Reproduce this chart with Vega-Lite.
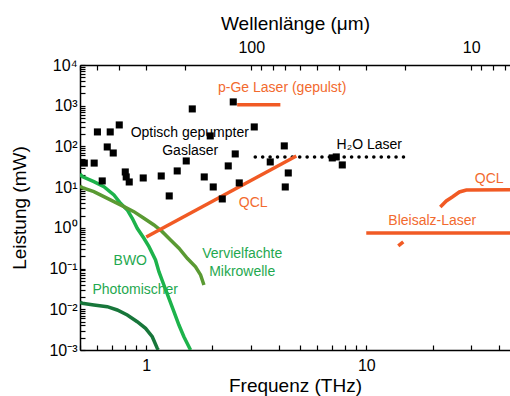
{
  "$schema": "https://vega.github.io/schema/vega-lite/v6.json",
  "width": 430,
  "height": 285,
  "autosize": {"type": "none"},
  "padding": {"left": 80, "top": 65, "right": 0, "bottom": 46},
  "config": {
    "font": "Liberation Sans",
    "view": {"stroke": null},
    "axis": {
      "domainColor": "#000000", "domainWidth": 1.5, "tickColor": "#000000", "tickWidth": 1.2,
      "labelColor": "#000000", "titleColor": "#000000",
      "labelFont": "Liberation Sans", "titleFont": "Liberation Sans",
      "labelFontSize": 16, "titleFontSize": 19, "titleFontWeight": "normal",
      "grid": false, "ticks": true, "tickSize": -5, "labelOverlap": false, "labelFlush": false
    }
  },
  "datasets": {
    "points": [
      {"f": 0.523, "p": 39}, {"f": 0.58, "p": 39}, {"f": 0.6, "p": 227}, {"f": 0.631, "p": 14.2},
      {"f": 0.665, "p": 97}, {"f": 0.686, "p": 227}, {"f": 0.708, "p": 69}, {"f": 0.754, "p": 337},
      {"f": 0.803, "p": 23.6}, {"f": 0.811, "p": 17.8}, {"f": 0.837, "p": 13.4}, {"f": 0.969, "p": 16.8},
      {"f": 1.17, "p": 18.8}, {"f": 1.272, "p": 6.08}, {"f": 1.383, "p": 25}, {"f": 1.52, "p": 44},
      {"f": 1.619, "p": 834}, {"f": 1.835, "p": 17.8}, {"f": 1.954, "p": 181}, {"f": 2.016, "p": 10.1},
      {"f": 2.216, "p": 5.13}, {"f": 2.359, "p": 33.2}, {"f": 2.486, "p": 1240}, {"f": 2.538, "p": 65.4},
      {"f": 2.647, "p": 12.7}, {"f": 3.097, "p": 301}, {"f": 3.661, "p": 41.6}, {"f": 4.24, "p": 103},
      {"f": 4.284, "p": 10.1}, {"f": 4.421, "p": 22.3}, {"f": 7.006, "p": 52.2}, {"f": 7.305, "p": 55.2},
      {"f": 7.78, "p": 35.1}
    ],
    "h2o": [{"f": 3.13, "p": 55}, {"f": 14.9, "p": 55}],
    "curves": [
      {"s": "BWO", "f": 0.5, "p": 21.1}, {"s": "BWO", "f": 0.512, "p": 18.1}, {"s": "BWO", "f": 0.578, "p": 13.6},
      {"s": "BWO", "f": 0.642, "p": 10.3}, {"s": "BWO", "f": 0.713, "p": 6.43}, {"s": "BWO", "f": 0.764, "p": 4.02},
      {"s": "BWO", "f": 0.82, "p": 2.75}, {"s": "BWO", "f": 0.864, "p": 1.72}, {"s": "BWO", "f": 0.91, "p": 0.977},
      {"s": "BWO", "f": 0.976, "p": 0.554}, {"s": "BWO", "f": 1.029, "p": 0.345}, {"s": "BWO", "f": 1.102, "p": 0.163},
      {"s": "BWO", "f": 1.142, "p": 0.0839}, {"s": "BWO", "f": 1.203, "p": 0.0395}, {"s": "BWO", "f": 1.268, "p": 0.0186},
      {"s": "BWO", "f": 1.336, "p": 0.00873}, {"s": "BWO", "f": 1.408, "p": 0.00411}, {"s": "BWO", "f": 1.483, "p": 0.00212},
      {"s": "BWO", "f": 1.59, "p": 0.001},
      {"s": "VM", "f": 0.5, "p": 10.7}, {"s": "VM", "f": 0.512, "p": 9.72}, {"s": "VM", "f": 0.578, "p": 7.75},
      {"s": "VM", "f": 0.642, "p": 5.84}, {"s": "VM", "f": 0.713, "p": 4.4}, {"s": "VM", "f": 0.792, "p": 3.32},
      {"s": "VM", "f": 0.879, "p": 2.5}, {"s": "VM", "f": 0.976, "p": 1.72}, {"s": "VM", "f": 1.084, "p": 1.18},
      {"s": "VM", "f": 1.182, "p": 0.807}, {"s": "VM", "f": 1.29, "p": 0.505}, {"s": "VM", "f": 1.408, "p": 0.316},
      {"s": "VM", "f": 1.536, "p": 0.179}, {"s": "VM", "f": 1.675, "p": 0.111}, {"s": "VM", "f": 1.766, "p": 0.0697},
      {"s": "VM", "f": 1.829, "p": 0.0395},
      {"s": "PM", "f": 0.5, "p": 0.0151}, {"s": "PM", "f": 0.512, "p": 0.014}, {"s": "PM", "f": 0.578, "p": 0.0128},
      {"s": "PM", "f": 0.665, "p": 0.0116}, {"s": "PM", "f": 0.738, "p": 0.00962}, {"s": "PM", "f": 0.82, "p": 0.00724},
      {"s": "PM", "f": 0.91, "p": 0.00496}, {"s": "PM", "f": 0.993, "p": 0.00341}, {"s": "PM", "f": 1.065, "p": 0.00212},
      {"s": "PM", "f": 1.122, "p": 0.0011}, {"s": "PM", "f": 1.134, "p": 0.001},
      {"s": "pGe", "f": 2.59, "p": 1050}, {"s": "pGe", "f": 4.07, "p": 1050},
      {"s": "QCL1", "f": 1.0, "p": 0.597}, {"s": "QCL1", "f": 4.81, "p": 58.4},
      {"s": "Blei", "f": 10, "p": 0.75}, {"s": "Blei", "f": 45, "p": 0.75},
      {"s": "Blei2", "f": 13.98, "p": 0.359}, {"s": "Blei2", "f": 14.73, "p": 0.451},
      {"s": "QCL2", "f": 21.7, "p": 3.26}, {"s": "QCL2", "f": 23.1, "p": 4.58}, {"s": "QCL2", "f": 24.6, "p": 5.74},
      {"s": "QCL2", "f": 26.5, "p": 7.62}, {"s": "QCL2", "f": 28.5, "p": 8.53}, {"s": "QCL2", "f": 45, "p": 8.6}
    ],
    "labels": [
      {"t": "p-Ge Laser (gepulst)", "f": 4.15, "p": 2736, "g": "o"},
      {"t": "QCL", "f": 3.064, "p": 4.09, "g": "o"},
      {"t": "QCL", "f": 36.2, "p": 15.9, "g": "o"},
      {"t": "Bleisalz-Laser", "f": 19.95, "p": 1.48, "g": "o"},
      {"t": "Optisch gepumpter", "f": 1.577, "p": 210, "g": "k"},
      {"t": "Gaslaser", "f": 1.585, "p": 76, "g": "k"},
      {"t": "H₂O Laser", "f": 10.32, "p": 109, "g": "k"},
      {"t": "BWO", "f": 0.846, "p": 0.154, "g": "g"},
      {"t": "Vervielfachte", "f": 2.73, "p": 0.229, "g": "g"},
      {"t": "Mikrowelle", "f": 2.73, "p": 0.0826, "g": "g"},
      {"t": "Photomischer", "f": 0.891, "p": 0.0298, "g": "g"}
    ]
  },
  "layer": [
    {
      "data": {"values": [{"wl": 100}, {"wl": 10}]},
      "mark": {"type": "point", "opacity": 0},
      "encoding": {
        "x": {
          "field": "wl", "type": "quantitative",
          "scale": {"type": "log", "domain": [600, 6.6667], "nice": false},
          "axis": {
            "orient": "top", "title": "Wellenlänge (μm)",
            "values": [600, 500, 400, 300, 200, 100, 90, 80, 70, 60, 50, 40, 30, 20, 10, 9, 8, 7],
            "labelExpr": "datum.value == 100 ? '100' : datum.value == 10 ? '10' : ''",
            "labelPadding": 15, "titlePadding": 6,
            "encode": {"ticks": {"update": {"y2": {"signal": "(datum.value == 100 || datum.value == 10) ? 7 : 4.5"}}}}
          }
        }
      }
    },
    {
      "encoding": {
        "x": {
          "field": "f", "type": "quantitative",
          "scale": {"type": "log", "domain": [0.5, 45], "nice": false},
          "axis": {
            "orient": "bottom", "title": "Frequenz (THz)",
            "values": [0.5, 0.6, 0.7, 0.8, 0.9, 1, 2, 3, 4, 5, 6, 7, 8, 9, 10, 20, 30, 40],
            "labelExpr": "datum.value == 1 ? '1' : datum.value == 10 ? '10' : ''",
            "labelPadding": 12, "titlePadding": 3,
            "encode": {"ticks": {"update": {"y2": {"signal": "(datum.value == 1 || datum.value == 10) ? -7 : -4.5"}}}}
          }
        },
        "y": {
          "field": "p", "type": "quantitative",
          "scale": {"type": "log", "domain": [0.001, 10000], "nice": false},
          "axis": {
            "title": "Leistung (mW)",
            "values": [0.001, 0.002, 0.003, 0.004, 0.005, 0.006, 0.007, 0.008, 0.009,
                       0.01, 0.02, 0.03, 0.04, 0.05, 0.06, 0.07, 0.08, 0.09,
                       0.1, 0.2, 0.3, 0.4, 0.5, 0.6, 0.7, 0.8, 0.9,
                       1, 2, 3, 4, 5, 6, 7, 8, 9,
                       10, 20, 30, 40, 50, 60, 70, 80, 90,
                       100, 200, 300, 400, 500, 600, 700, 800, 900,
                       1000, 2000, 3000, 4000, 5000, 6000, 7000, 8000, 9000, 10000],
            "labelExpr": "abs(log(datum.value)/LN10 - round(log(datum.value)/LN10)) > 0.01 ? '' : ['10⁻³','10⁻²','10⁻¹','10⁰','10¹','10²','10³','10⁴'][round(log(datum.value)/LN10) + 3]",
            "labelPadding": 8, "titlePadding": 19,
            "encode": {"ticks": {"update": {"x2": {"signal": "abs(log(datum.value)/LN10 - round(log(datum.value)/LN10)) < 0.01 ? 7 : 4.5"}}}}
          }
        }
      },
      "layer": [
        {
          "data": {"name": "labels"},
          "mark": {"type": "text", "fontSize": 14, "font": "Liberation Sans", "align": "center", "baseline": "middle"},
          "encoding": {
            "text": {"field": "t"},
            "color": {"field": "g", "type": "nominal", "legend": null,
              "scale": {"domain": ["o", "k", "g"], "range": ["#f26a2e", "#000000", "#1fa84f"]}}
          }
        },
        {
          "data": {"name": "h2o"},
          "mark": {"type": "line", "color": "#000000", "strokeWidth": 3.6, "strokeDash": [0.01, 7.4], "strokeCap": "round", "clip": true},
          "encoding": {}
        },
        {
          "data": {"name": "curves"},
          "mark": {"type": "line", "strokeWidth": 3.5, "clip": true},
          "encoding": {
            "color": {"field": "s", "type": "nominal", "legend": null,
              "scale": {"domain": ["BWO", "VM", "PM", "pGe", "QCL1", "Blei", "Blei2", "QCL2"],
                        "range": ["#1db34b", "#5a9a33", "#17763a", "#f15a24", "#f15a24", "#f15a24", "#f15a24", "#f15a24"]}}
          }
        },
        {
          "data": {"name": "points"},
          "mark": {"type": "square", "size": 50, "color": "#000000", "opacity": 1, "clip": true},
          "encoding": {}
        }
      ],
      "resolve": {"scale": {"color": "independent"}}
    }
  ],
  "resolve": {"scale": {"x": "independent"}, "axis": {"x": "independent"}}
}
